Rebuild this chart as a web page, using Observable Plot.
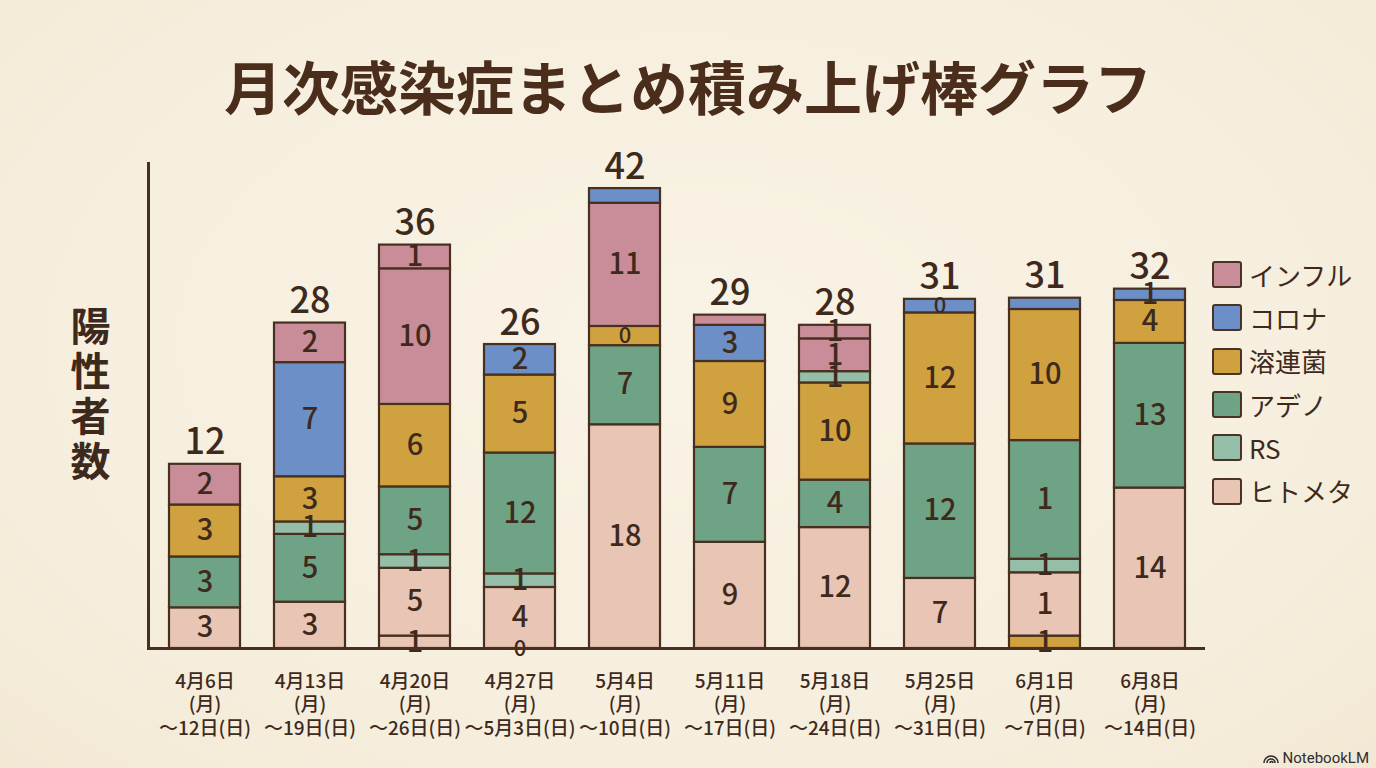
<!DOCTYPE html>
<html lang="ja">
<head>
<meta charset="utf-8">
<script src="https://cdn.jsdelivr.net/npm/d3@7"></script>
<script src="https://cdn.jsdelivr.net/npm/@observablehq/plot@0.6"></script>
<style>
  html, body { margin: 0; padding: 0; background: #f7f0e1; }
  #wrap { position: relative; width: 1376px; height: 768px; overflow: hidden;
          font-family: "Noto Sans CJK JP", "Noto Sans", sans-serif; color: #3e2a1d;
          background: radial-gradient(ellipse at 50% 45%, #f9f3e6 0%, #f6eedd 70%, #f2e8d4 100%); }
  #title { position: absolute; left: 0; right: 0; top: 50px; line-height: 70px; text-align: center;
           font-size: 58px; font-weight: 700; color: #4a2e1b; letter-spacing: 0; }
  #chart { position: absolute; left: 0; top: 0; }
  #legend { position: absolute; left: 1212px; top: 253px; }
  .row { display: flex; align-items: center; height: 43.3px; }
  .sw { width: 30px; height: 27px; box-sizing: border-box; border: 2px solid #4a3325; border-radius: 3px; margin-right: 7px; }
  .lab { font-size: 26px; line-height: 30px; color: #3e2a1d; }
  #credit { position: absolute; right: 7px; bottom: 1px; font-family: Roboto, "Noto Sans", sans-serif;
            font-size: 15px; color: #2e2e2e; display: flex; align-items: center; gap: 4px; }
</style>
</head>
<body>
<div id="wrap">
  <div id="title">月次感染症まとめ積み上げ棒グラフ</div>
  <div id="chart"></div>
  <div id="legend"></div>
  <div id="credit"><svg width="16" height="12" viewBox="0 0 16 12"><path d="M1 11 A7 7 0 0 1 15 11 M4 11 A4 4 0 0 1 12 11 M7 11 A1.5 1.5 0 0 1 10 11" fill="none" stroke="#2e2e2e" stroke-width="1.6"/></svg>NotebookLM</div>
</div>
<script>
// ---- data ----
const weeks = ["4月6日", "4月13日", "4月20日", "4月27日", "5月4日", "5月11日", "5月18日", "5月25日", "6月1日", "6月8日"];
const weekStart = "(月)";
const weekEnds = ["〜12日(日)", "〜19日(日)", "〜26日(日)", "〜5月3日(日)", "〜10日(日)", "〜17日(日)", "〜24日(日)", "〜31日(日)", "〜7日(日)", "〜14日(日)"];
const totals = [12, 28, 36, 26, 42, 29, 28, 31, 31, 32];
const categories = ["インフル", "コロナ", "溶連菌", "アデノ", "RS", "ヒトメタ"];
const palette = ["#c98d99", "#6b8fc6", "#cfa13f", "#6fa386", "#95bea9", "#e9c5b5"];

// per week, segments from bottom to top (as drawn in the picture)
const stackOrder = [
  ["ヒトメタ", "アデノ", "溶連菌", "インフル"],
  ["ヒトメタ", "アデノ", "RS", "溶連菌", "コロナ", "インフル"],
  ["ヒトメタ", "ヒトメタ", "RS", "アデノ", "溶連菌", "インフル", "インフル"],
  ["インフル", "ヒトメタ", "RS", "アデノ", "溶連菌", "コロナ"],
  ["ヒトメタ", "アデノ", "溶連菌", "インフル", "コロナ"],
  ["ヒトメタ", "アデノ", "溶連菌", "コロナ", "インフル"],
  ["ヒトメタ", "アデノ", "溶連菌", "RS", "インフル", "インフル"],
  ["ヒトメタ", "アデノ", "溶連菌", "コロナ"],
  ["溶連菌", "ヒトメタ", "RS", "アデノ", "溶連菌", "コロナ"],
  ["ヒトメタ", "アデノ", "溶連菌", "コロナ"]
];
// drawn heights of the segments
const heights = [
  [3.6, 4.5, 4.6, 3.6],
  [4.1, 6.0, 1.1, 4.0, 10.1, 3.5],
  [1.1, 6.0, 1.2, 6.0, 7.3, 12.0, 2.1],
  [0, 5.4, 1.2, 10.7, 6.9, 2.7],
  [19.8, 7.0, 1.7, 10.9, 1.3],
  [9.4, 8.4, 7.6, 3.2, 0.9],
  [10.7, 4.2, 8.6, 1.0, 2.9, 1.2],
  [6.2, 11.9, 11.6, 1.2],
  [1.1, 5.6, 1.2, 10.5, 11.6, 1.0],
  [14.2, 12.8, 3.8, 1.0]
];
// numbers printed inside the segments
const printed = [
  ["3", "3", "3", "2"],
  ["3", "5", "1", "3", "7", "2"],
  ["1", "5", "1", "5", "6", "10", "1"],
  ["0", "4", "1", "12", "5", "2"],
  ["18", "7", "0", "11", ""],
  ["9", "7", "9", "3", ""],
  ["12", "4", "10", "1", "1", "1"],
  ["7", "12", "12", "0"],
  ["1", "1", "1", "1", "10", ""],
  ["14", "13", "4", "1"]
];

// ---- tables ----
const rows = weeks.flatMap((w, i) => stackOrder[i].map((c, j) => ({
  week: w, category: c, value: heights[i][j], label: printed[i][j]
})));
const weekTable = weeks.map((w, i) => ({
  week: w, top: d3.sum(heights[i]), total: String(totals[i]),
  tick: `${w}\n${weekStart}\n${weekEnds[i]}`
}));

const ink = "#3e2a1d";
const line = "#47301f";

const chart = Plot.plot({
  width: 1376,
  height: 768,
  marginLeft: 148,
  marginRight: 171,
  marginTop: 163,
  marginBottom: 120,
  style: {background: "transparent", fontFamily: "'Noto Sans CJK JP', 'Noto Sans', sans-serif", color: ink, overflow: "visible"},
  x: {type: "band", domain: weeks, paddingInner: 0.328, paddingOuter: 0.164, axis: null},
  y: {domain: [0, 42.92], axis: null},
  color: {domain: categories, range: palette},
  marks: [
    Plot.barY(rows, Plot.stackY({x: "week", y: "value", fill: "category", stroke: line, strokeWidth: 2.2, order: null})),
    Plot.text(rows, Plot.stackY({
      x: "week", y: "value", text: "label", order: null,
      fontSize: d => (d.label === "0" ? 22 : 29), fontWeight: 500, fill: ink
    })),
    Plot.text(weekTable, {x: "week", y: "top", text: "total", lineAnchor: "bottom", dy: -10, fontSize: 36, fontWeight: 500, fill: ink}),
    Plot.text(weekTable, {x: "week", frameAnchor: "bottom", text: "tick", lineAnchor: "top", dy: 22, fontSize: 19, lineHeight: 1.26, fontWeight: 500, fill: ink}),
    Plot.text(["陽\n性\n者\n数"], {frameAnchor: "left", textAnchor: "middle", dx: -58, dy: -12, fontSize: 40, lineHeight: 1.12, fontWeight: 700, fill: ink}),
    Plot.frame({anchor: "left", stroke: line, strokeWidth: 3}),
    Plot.ruleY([0], {stroke: line, strokeWidth: 3})
  ]
});
document.getElementById("chart").appendChild(chart);

// ---- legend ----
const legend = document.getElementById("legend");
categories.forEach((c, i) => {
  const row = document.createElement("div");
  row.className = "row";
  const sw = document.createElement("div");
  sw.className = "sw";
  sw.style.background = palette[i];
  const lab = document.createElement("div");
  lab.className = "lab";
  lab.textContent = c;
  row.appendChild(sw);
  row.appendChild(lab);
  legend.appendChild(row);
});
</script>
</body>
</html>
